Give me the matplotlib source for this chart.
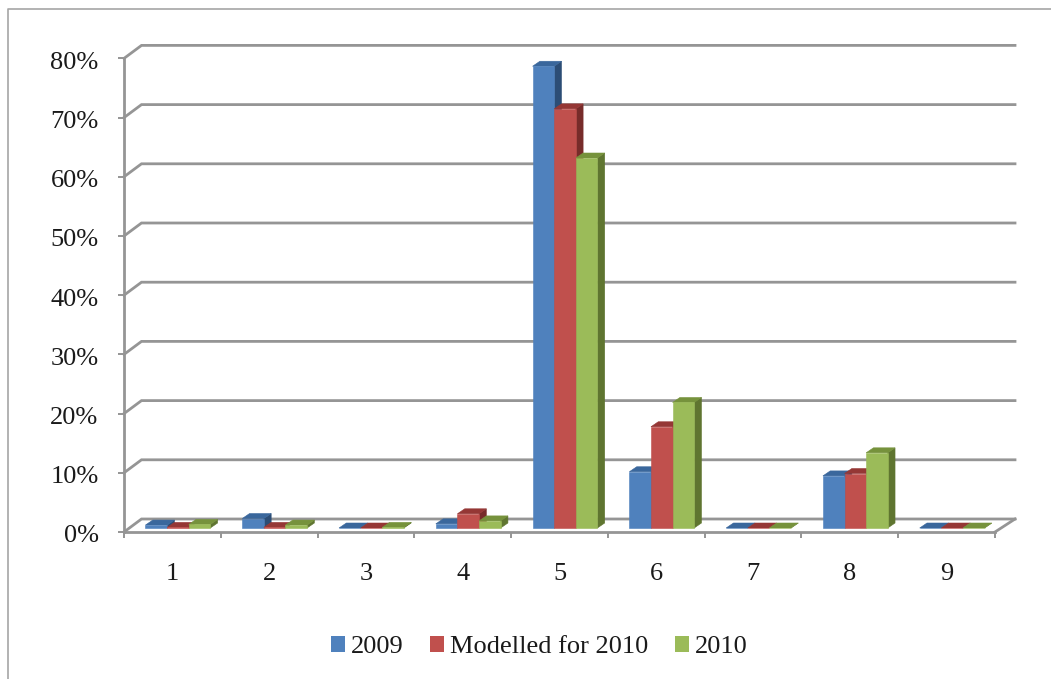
import matplotlib
matplotlib.use('Agg')
import matplotlib.pyplot as plt
from matplotlib.patches import Patch, Polygon
from matplotlib.transforms import ScaledTranslation

W, H = 1051, 679

categories = ['1', '2', '3', '4', '5', '6', '7', '8', '9']
y_ticks = [0, 10, 20, 30, 40, 50, 60, 70, 80]
values_2009 = [0.5, 1.6, 0.0, 0.7, 78.0, 9.5, 0.0, 8.8, 0.0]
values_modelled = [0.1, 0.1, 0.0, 2.4, 70.8, 17.1, 0.0, 9.2, 0.0]
values_2010 = [0.6, 0.5, 0.1, 1.2, 62.5, 21.2, 0.0, 12.7, 0.0]
series_names = ['2009', 'Modelled for 2010', '2010']

front_colors = ['#4F81BD', '#C0504D', '#9BBB59']
side_colors = ['#2C4D75', '#772C2A', '#5F7530']
top_colors = ['#3A679C', '#953735', '#76923C']
grid_color = '#959595'

plt.rcParams['font.family'] = ['Liberation Serif', 'DejaVu Serif']

fig = plt.figure(figsize=(W / 100, H / 100), dpi=100)
left, right, bottom, top = 124, 995, 532, 58.4
ax = fig.add_axes([left / W, 1 - bottom / H, (right - left) / W, (bottom - top) / H])
ax.set_xlim(0.5, 9.5)
ax.set_ylim(0, 80)
ax.patch.set_visible(False)

# pixel sizes in data units, the fake 3d is all sheared offsets
px = 9 / (right - left)
py = 80 / (bottom - top)
wall_dx, wall_dy = 17.5 * px, 13 * py
base_dx, base_dy = 5.5 * px, 4 * py
depth_dx, depth_dy = 7.3 * px, 5 * py
bar_w = 21.6 * px

for t in y_ticks:
    ax.plot([0.5, 0.5 + wall_dx, 9.5 + 20 * px], [t, t + wall_dy, t + wall_dy],
            color=grid_color, lw=2.0, clip_on=False, zorder=1, solid_joinstyle='miter')
ax.plot([9.5, 9.5 + 20 * px], [0, wall_dy], color=grid_color, lw=2.0, clip_on=False, zorder=1)

for side in ['top', 'right']:
    ax.spines[side].set_visible(False)
for side in ['left', 'bottom']:
    ax.spines[side].set_color(grid_color)
    ax.spines[side].set_linewidth(2.0)

ax.set_xticks([i + 0.5 for i in range(10)], [''] * 10)
ax.set_xticks(range(1, 10), categories, minor=True)
ax.set_yticks(y_ticks, [f'{t}%' for t in y_ticks])
ax.tick_params(axis='x', which='major', length=4.5, width=1.4, color=grid_color)
ax.tick_params(axis='x', which='minor', length=0, labelsize=19, pad=22, labelcolor='#1a1a1a')
ax.tick_params(axis='y', length=4.5, width=1.4, color=grid_color, labelsize=19, pad=13.8,
               labelcolor='#1a1a1a')
for label in ax.get_yticklabels():
    label.set_transform(label.get_transform() + ScaledTranslation(0, -2 / 100, fig.dpi_scale_trans))

series = [values_2009, values_modelled, values_2010]
for i in range(len(categories)):
    start = i + 1 - 1.5 * bar_w + base_dx
    for s, vals in enumerate(series):
        x0 = start + s * bar_w
        x1 = x0 + bar_w
        y0 = base_dy
        y1 = base_dy + vals[i]
        z = 3 + i + s * 0.1
        ax.add_patch(Polygon([(x1, y0), (x1 + depth_dx, y0 + depth_dy),
                              (x1 + depth_dx, y1 + depth_dy), (x1, y1)],
                             fc=side_colors[s], ec=side_colors[s], lw=0.4, clip_on=False, zorder=z))
        ax.add_patch(Polygon([(x0, y1), (x1, y1), (x1 + depth_dx, y1 + depth_dy),
                              (x0 + depth_dx, y1 + depth_dy)],
                             fc=top_colors[s], ec=top_colors[s], lw=0.4, clip_on=False, zorder=z))
        ax.add_patch(Polygon([(x0, y0), (x1, y0), (x1, y1), (x0, y1)],
                             fc=front_colors[s], ec=front_colors[s], lw=0.4, clip_on=False, zorder=z))

handles = [Patch(fc=c, ec='none') for c in front_colors]
fig.legend(handles, series_names, loc='center', bbox_to_anchor=(539 / W, 1 - 647 / H), ncol=3,
           frameon=False, fontsize=19, handlelength=0.54, handleheight=0.6,
           handletextpad=0.22, columnspacing=1.0, labelcolor='#1a1a1a')

# outer chart border, only top and left made it into the crop
fig.add_artist(plt.Line2D([8 / W, 8 / W, 1], [0, 1 - 8.5 / H, 1 - 8.5 / H], color='#A5A5A5', lw=1.2))

fig.savefig('out.png', dpi=100)
